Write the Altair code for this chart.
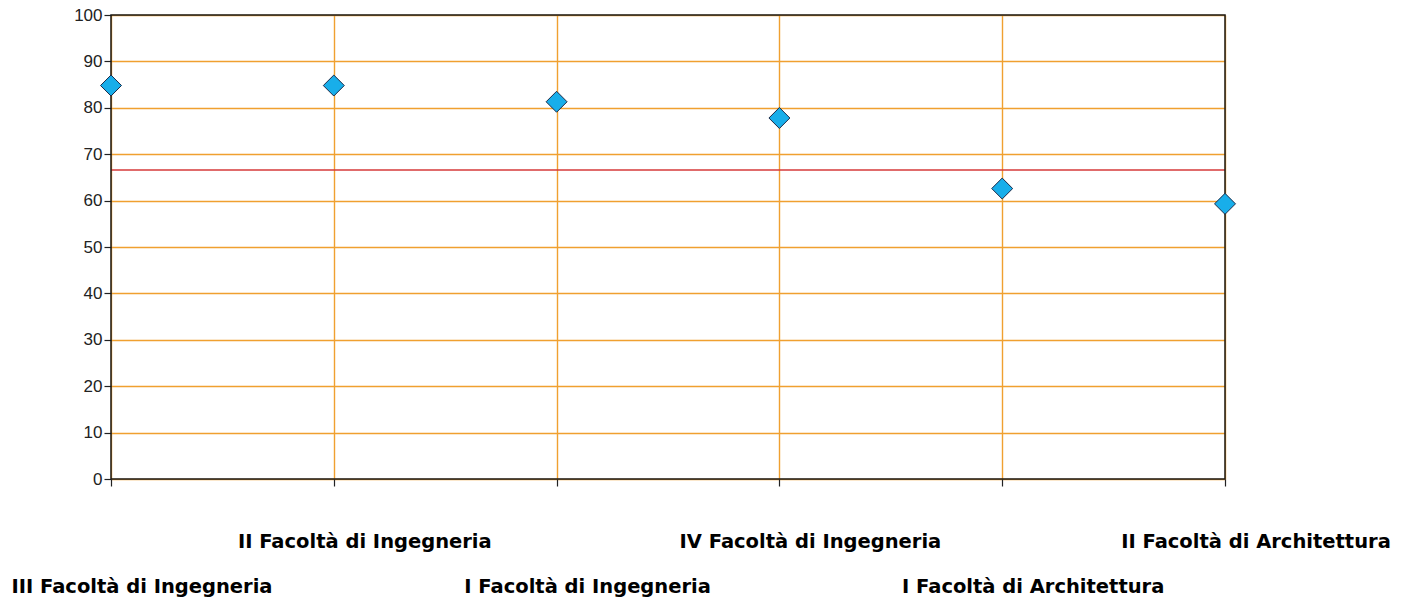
import altair as alt
import pandas as pd

categories = [
    "III Facoltà di Ingegneria",
    "II Facoltà di Ingegneria",
    "I Facoltà di Ingegneria",
    "IV Facoltà di Ingegneria",
    "I Facoltà di Architettura",
    "II Facoltà di Architettura",
]
values = [84.8, 84.8, 81.3, 77.8, 62.6, 59.3]
reference_value = 66.6
label_row = [1, 0, 1, 0, 1, 0]

df = pd.DataFrame({
    "idx": list(range(len(categories))),
    "cat": categories,
    "val": values,
    "row": label_row,
})

W, H = 1114, 464

xscale = alt.Scale(domain=[0, len(categories) - 1], nice=False, zero=False)
yscale = alt.Scale(domain=[0, 100], nice=False)

base = alt.Chart(df)

points = base.mark_point(
    shape="diamond", size=440, filled=True, fill="#18AEEA",
    stroke="#1B2A48", strokeWidth=1, opacity=1
).encode(
    x=alt.X("idx:Q", scale=xscale,
            axis=alt.Axis(values=list(range(len(categories))), labels=False, title=None,
                          grid=True, gridColor="#F0A030", gridWidth=1.4,
                          domain=False, tickColor="#222222",
                          tickSize=7, tickWidth=1.2)),
    y=alt.Y("val:Q", scale=yscale,
            axis=alt.Axis(values=list(range(0, 101, 10)), title=None,
                          grid=True, gridColor="#F0A030", gridWidth=1.4,
                          domain=False, tickColor="#222222", tickSize=7, tickWidth=1.2,
                          labelFont="Liberation Sans", labelFontSize=17,
                          labelColor="#222222", labelPadding=2)),
)

ref = alt.Chart(pd.DataFrame({"r": [reference_value]})).mark_rule(
    color="#D63A3A", strokeWidth=1.4
).encode(y=alt.Y("r:Q", scale=yscale))

frame = alt.Chart(pd.DataFrame({"f": [0]})).mark_rect(
    fillOpacity=0, stroke="#1A1A1A", strokeWidth=1.5
).encode(
    x=alt.value(0), x2=alt.value(W), y=alt.value(0), y2=alt.value(H)
)

text_style = dict(font="DejaVu Sans", fontWeight="bold", fontSize=19.5, color="black",
                  baseline="middle", align="center", dx=31)

labels_top = base.transform_filter("datum.row == 0").mark_text(**text_style).encode(
    x=alt.X("idx:Q", scale=xscale),
    y=alt.value(H + 63),
    text="cat:N",
)
labels_bottom = base.transform_filter("datum.row == 1").mark_text(**text_style).encode(
    x=alt.X("idx:Q", scale=xscale),
    y=alt.value(H + 108),
    text="cat:N",
)

chart = alt.layer(ref, frame, points, labels_top, labels_bottom).properties(
    width=W, height=H,
    padding={"left": 103, "top": 7, "right": 180, "bottom": 120},
    autosize=alt.AutoSizeParams(type="none"),
).configure_view(
    strokeWidth=0
).configure(background="white")

chart.save("out.html", embed_options={"renderer": "svg", "actions": False})
